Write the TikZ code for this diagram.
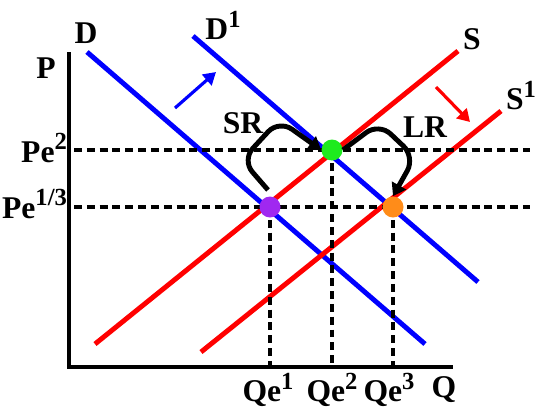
\documentclass[tikz,border=0pt]{standalone}
\usepackage{fontspec}
\setmainfont{Liberation Serif}
\usetikzlibrary{arrows.meta,positioning}

\definecolor{eqpurple}{RGB}{160,40,240}
\definecolor{eqgreen}{RGB}{30,235,30}
\definecolor{eqorange}{RGB}{255,140,25}
\newcommand{\supnum}[1]{\raisebox{0.38em}{\fontsize{14}{14}\selectfont #1}}

\begin{document}
\begin{tikzpicture}[x=0.02cm, y=-0.02cm,
  lbl/.style={font=\fontsize{18}{21}\selectfont\bfseries, inner sep=1pt},
  axis/.style={line width=2.3pt},
  demand/.style={blue, line width=2.8pt},
  supply/.style={red, line width=2.8pt},
  guide/.style={line width=2.2pt, dash pattern=on 4.5pt off 2.8pt},
  eq/.style={circle, minimum size=0.42cm, inner sep=0pt},
  shiftarrow/.style={line width=1.8pt, -{Triangle[length=7pt,width=8pt]}},
  runpath/.style={line width=2.8pt, rounded corners=9pt, -{Triangle[length=7pt,width=9pt]}}]
\useasboundingbox (0,0) rectangle (537,410);

% Axes
\coordinate (ytop) at (69,52);
\coordinate (origin) at (69,367);
\coordinate (xend) at (453,367);
\draw[axis] (ytop) -- (origin) -- (xend);

% Curves
\draw[demand] (87,52) -- (425,344) coordinate (d0);
\draw[demand] (193,36) -- (478,282) coordinate (d1);
\draw[supply] (95,344) -- (458,51) coordinate (s0);
\draw[supply] (201,352) -- (501,111) coordinate (s1);

% Dashed guides
\coordinate (c1) at (270,207);
\coordinate (c2) at (332,150);
\coordinate (c3) at (393,207);
\coordinate (p2) at (74,150);
\coordinate (p13) at (74,207);
\draw[guide] (p2) -- (530,150);
\draw[guide] (p13) -- (530,207);
\foreach \c/\x in {c1/270, c2/332, c3/393}
  \draw[guide] (\c) -- (\x,365);

% Equilibria
\node[eq, fill=eqpurple] (e1) at (c1) {};
\node[eq, fill=eqgreen] (e2) at (c2) {};
\node[eq, fill=eqorange] (e3) at (c3) {};

% Labels
\node[lbl] (lP) at (46,68) {P};
\node[lbl, anchor=east] (lpe2) at (69,148) {Pe\supnum{2}};
\node[lbl, anchor=east] (lpe13) at (69,204) {Pe\supnum{1/3}};
\node[lbl] (lD) at (86,33) {D};
\node[lbl] (lD1) at (223,25) {D\supnum{1}};
\node[lbl] (lS) at (472,39) {S};
\node[lbl] (lS1) at (521,96) {S\supnum{1}};
\node[lbl] (lq1) at (268,390) {Qe\supnum{1}};
\node[lbl] (lq2) at (332,390) {Qe\supnum{2}};
\node[lbl] (lq3) at (389,390) {Qe\supnum{3}};
\node[lbl] (lQ) at (444,390) {Q};
\node[lbl] (lSR) at (243,123) {SR};
\node[lbl] (lLR) at (425,127) {LR};

% Shifts
\coordinate (ba) at (175,108);
\coordinate (bb) at (216,72);
\draw[shiftarrow, blue] (ba) -- (bb);
\coordinate (ra) at (436,87);
\coordinate (rb) at (470,122);
\draw[shiftarrow, red] (ra) -- (rb);

% Short run and long run paths
\draw[runpath] (268,190) -- (242,160) -- (279,120) -- (e2.west);
\draw[runpath] (e2.east) -- (379,123) -- (415,157) -- (e3.north);
\end{tikzpicture}
\end{document}
